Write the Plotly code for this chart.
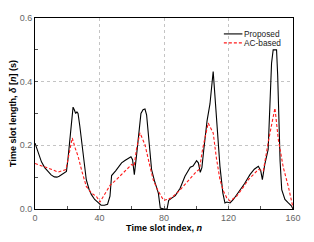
import plotly.graph_objects as go

prop_x = [0, 2, 4, 6, 8, 10, 12, 13.6, 15, 17, 18.4, 19.5, 20.5, 22, 23.6, 24.5, 25.2, 26, 26.7, 27.8,
          28.7, 30, 31.8, 33.5, 35, 37, 39, 41, 43, 45, 46.5, 47.5, 50, 52, 53.7, 56, 57.9, 59.5, 60.5, 61.6,
          63, 64, 65.7, 67, 68.2, 69.2, 70.5, 72.3, 74, 76.5, 77.7, 80, 81.9, 82.9, 85, 87, 90, 93, 96.3, 98,
          100.2, 101.3, 102.5, 103.5, 104.6, 106.7, 108.5, 110.5, 111.6, 113, 114.7, 116.5, 117.8, 119, 121,
          123, 126, 130, 133.3, 136, 138.5, 140, 141, 142.5, 144.6, 146, 146.7, 147.7, 149.8, 150.5, 150.9,
          152, 153, 155, 157.1, 159, 160]
prop_y = [0.207, 0.175, 0.148, 0.13, 0.117, 0.107, 0.101, 0.100, 0.103, 0.110, 0.113, 0.118, 0.16, 0.25,
          0.32, 0.31, 0.30, 0.305, 0.30, 0.26, 0.218, 0.16, 0.092, 0.062, 0.045, 0.03, 0.02, 0.012, 0.012,
          0.015, 0.04, 0.105, 0.12, 0.133, 0.145, 0.153, 0.16, 0.164, 0.155, 0.108, 0.17, 0.228, 0.30, 0.312,
          0.314, 0.296, 0.23, 0.124, 0.09, 0.05, 0.003, 0.0, 0.0, 0.027, 0.035, 0.042, 0.065, 0.103, 0.131,
          0.135, 0.152, 0.145, 0.115, 0.13, 0.183, 0.277, 0.33, 0.432, 0.354, 0.24, 0.134, 0.05, 0.019, 0.022,
          0.019, 0.03, 0.05, 0.08, 0.108, 0.125, 0.134, 0.12, 0.092, 0.14, 0.187, 0.35, 0.458, 0.5, 0.5, 0.42,
          0.322, 0.15, 0.061, 0.03, 0.019, 0.01, 0.0]

ac_x = [0, 5, 10, 14.3, 17, 19.2, 21, 23.1, 25, 26.7, 29, 31.8, 35, 38, 40.3, 43, 46.5, 50, 55, 60, 61.5,
        63, 65.1, 68.2, 71, 73.3, 76, 78.5, 79.8, 82, 84.7, 90, 95, 100.2, 102, 104, 107.4, 110.5, 112.5,
        114.7, 117, 118.9, 121, 125, 128, 132.3, 138.5, 141.6, 145, 148.8, 150.9, 154, 157.1, 159, 160]
ac_y = [0.143, 0.135, 0.125, 0.116, 0.12, 0.124, 0.17, 0.223, 0.19, 0.166, 0.12, 0.071, 0.05, 0.04, 0.022,
        0.045, 0.074, 0.09, 0.115, 0.14, 0.135, 0.19, 0.239, 0.202, 0.14, 0.092, 0.06, 0.04, 0.027, 0.03,
        0.035, 0.06, 0.09, 0.118, 0.125, 0.19, 0.27, 0.239, 0.16, 0.092, 0.055, 0.035, 0.025, 0.04, 0.06,
        0.092, 0.124, 0.12, 0.22, 0.317, 0.218, 0.13, 0.071, 0.03, 0.004]

x_ticks = [0, 40, 80, 120, 160]
y_ticks = [0.0, 0.2, 0.4, 0.6]
y_tick_labels = ["0.0", "0.2", "0.4", "0.6"]
series_names = ["Proposed", "AC-based"]
series_colors = ["black", "#ff1a1a"]
series_dash = ["solid", "3px,2px"]

# page body has an 8px default margin, so the figure is sized to fill the rest of the window
OFF = 8
W, H = 314 - OFF, 242 - OFF
fig = go.Figure()
fig.add_trace(go.Scatter(x=prop_x, y=prop_y, mode="lines", name=series_names[0], showlegend=False,
                         line=dict(color=series_colors[0], width=1.1, dash=series_dash[0])))
fig.add_trace(go.Scatter(x=ac_x, y=ac_y, mode="lines", name=series_names[1], showlegend=False,
                         line=dict(color=series_colors[1], width=1.1, dash=series_dash[1])))

font_fam = "Liberation Sans, Arial"
axis_common = dict(showline=True, linecolor="black", linewidth=1, mirror=True,
                   ticks="inside", ticklen=3, tickcolor="#555", zeroline=False, automargin=False,
                   showgrid=True, gridcolor="#c4c4c4", griddash="dot", gridwidth=1,
                   tickfont=dict(family=font_fam, size=9, color="#666"))

# manual compact legend (paper coordinates)
legend_rows_px = [27.5, 38.5]
for i, name in enumerate(series_names):
    yp = 1 - (legend_rows_px[i] - OFF) / H
    fig.add_shape(type="line", xref="paper", yref="paper", x0=(232 - OFF) / W, x1=(254 - OFF) / W,
                  y0=yp, y1=yp, line=dict(color=series_colors[i], width=1.1, dash=series_dash[i]))
    fig.add_annotation(xref="paper", yref="paper", x=(255 - OFF) / W, y=yp, text=name, showarrow=False,
                       xanchor="left", yanchor="middle", borderpad=0,
                       font=dict(family=font_fam, size=8.3, color="#222"))

fig.update_layout(
    width=W, height=H,
    margin=dict(l=35 - OFF, r=21, t=18 - OFF, b=33),
    paper_bgcolor="white", plot_bgcolor="white",
    showlegend=False,
    xaxis=dict(range=[0, 160], tickvals=x_ticks, ticktext=[str(v) for v in x_ticks],
               minor=dict(ticks="inside", dtick=20, ticklen=3, tickcolor="#555", showgrid=False),
               title=dict(text="<b>Time slot index, </b><b><i>n</i></b>", standoff=2,
                          font=dict(family=font_fam, size=9, color="black")),
               **axis_common),
    yaxis=dict(range=[0, 0.6], tickvals=y_ticks, ticktext=y_tick_labels,
               minor=dict(ticks="inside", dtick=0.1, ticklen=3, tickcolor="#555", showgrid=False),
               title=dict(text="<b>Time slot length, </b><b><i>δ</i> [<i>n</i>] (s)</b>", standoff=2,
                          font=dict(family=font_fam, size=9, color="black")),
               **axis_common),
)

fig.write_html("out.html")
